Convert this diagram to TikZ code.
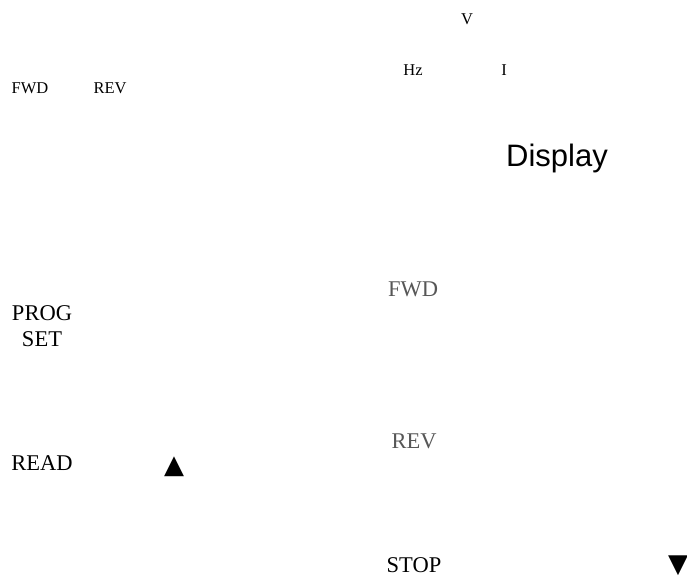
\documentclass[tikz,border=0pt]{standalone}
\usepackage{fontspec}
\setmainfont{Liberation Serif}
\newfontfamily\dispsans{Liberation Sans}
\newfontfamily\symsans{DejaVu Sans}
\usepackage{xcolor}
\usetikzlibrary{positioning}
\definecolor{keygray}{HTML}{575757}

\begin{document}
\begin{tikzpicture}[
  x=1pt, y=-1pt,
  small/.style={inner sep=0pt, font=\fontsize{16.5}{19}\selectfont},
  key/.style={inner sep=0pt, align=center, font=\fontsize{22.5}{26}\selectfont},
  sym/.style={inner sep=0pt, font=\symsans\fontsize{26}{28}\selectfont},
  disp/.style={inner sep=0pt, anchor=base, font=\dispsans\fontsize{31}{34}\selectfont},
]
\useasboundingbox (0,0) rectangle (687,578);

% ---- top labels ----
\node[small] (volt) at (467,19) {V};
\node[small] (hz) at (413,70) {Hz};
\node[small] (amp) at (504,70) {I};
\node[small] (fwdled) at (30,88) {FWD};
\node[small] (revled) at (110,88) {REV};

% ---- display ----
\node[disp] (display) at (557,166) {Display};

% ---- left keys ----
\node[key] (prog) at (42,326) {PROG\\SET};
\node[key] (read) at (42,463) {READ};
\node[sym] (up) at (174,467) {▲};

% ---- middle keys ----
\node[key, text=keygray] (fwd) at (413,289) {FWD};
\node[key, text=keygray] (rev) at (414,441) {REV};
\node[key] (stop) at (414,565) {STOP};
\node[sym] (down) at (678,566) {▼};

\end{tikzpicture}
\end{document}
